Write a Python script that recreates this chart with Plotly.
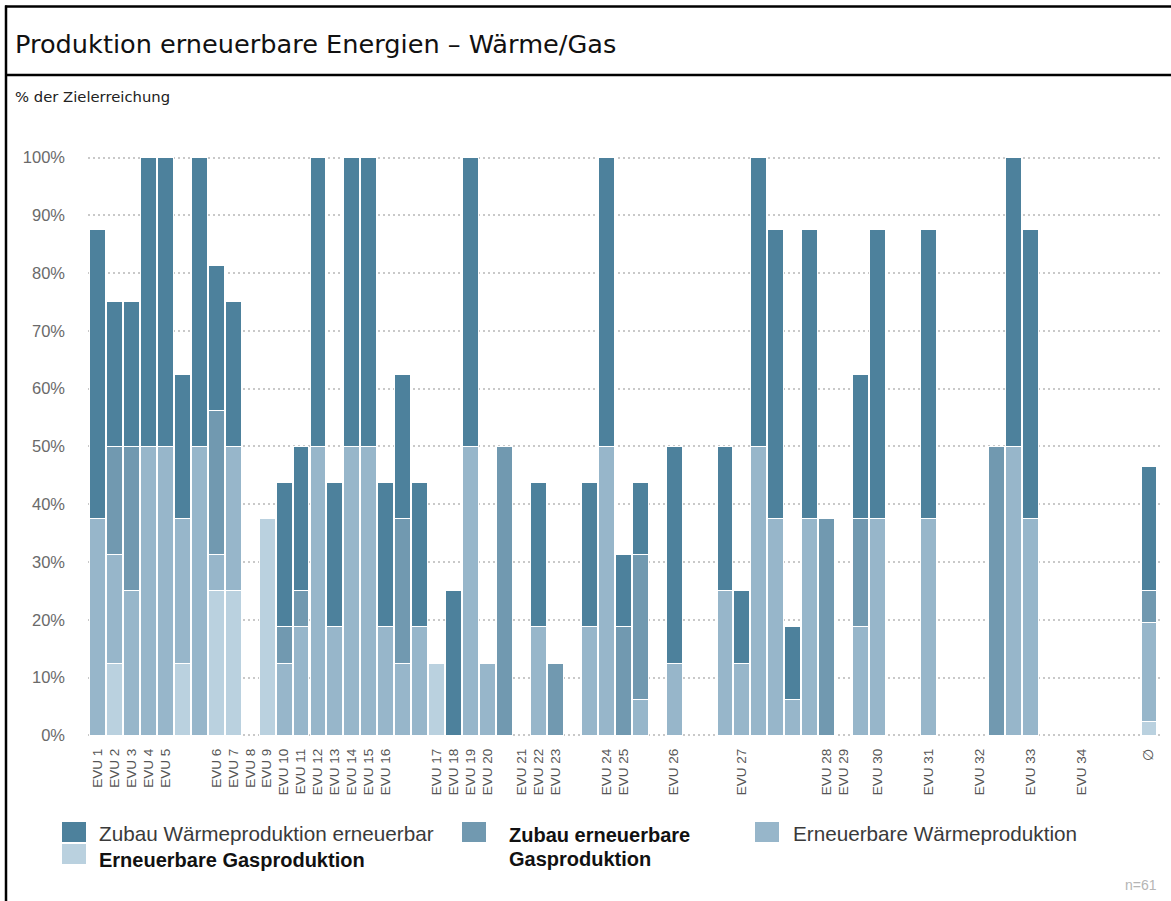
import plotly.graph_objects as go

# Slot labels along the x axis (empty strings are unlabeled suppliers)
labels = [
    "EVU 1", "EVU 2", "EVU 3", "EVU 4", "EVU 5", "", "", "EVU 6", "EVU 7", "EVU 8",
    "EVU 9", "EVU 10", "EVU 11", "EVU 12", "EVU 13", "EVU 14", "EVU 15", "EVU 16", "", "",
    "EVU 17", "EVU 18", "EVU 19", "EVU 20", "", "EVU 21", "EVU 22", "EVU 23", "", "",
    "EVU 24", "EVU 25", "", "", "EVU 26", "", "", "", "EVU 27", "",
    "", "", "", "EVU 28", "EVU 29", "", "EVU 30", "", "", "EVU 31",
    "", "", "EVU 32", "", "", "EVU 33", "", "", "EVU 34", "",
    "", "", "\u2205",
]

# Segment values in % of target (stacked bottom to top: gas, heat, new gas, new heat)
gas_prod = [
    0, 12.5, 0, 0, 0, 12.5, 0, 25, 25, 0,
    37.5, 0, 0, 0, 0, 0, 0, 0, 0, 0,
    12.5, 0, 0, 0, 0, 0, 0, 0, 0, 0,
    0, 0, 0, 0, 0, 0, 0, 0, 0, 0,
    0, 0, 0, 0, 0, 0, 0, 0, 0, 0,
    0, 0, 0, 0, 0, 0, 0, 0, 0, 0,
    0, 0, 2.3,
]
heat_prod = [
    37.5, 18.75, 25, 50, 50, 25, 50, 6.25, 25, 0,
    0, 12.5, 18.75, 50, 18.75, 50, 50, 18.75, 12.5, 18.75,
    0, 0, 50, 12.5, 0, 0, 18.75, 0, 0, 18.75,
    50, 0, 6.25, 0, 12.5, 0, 0, 25, 12.5, 50,
    37.5, 6.25, 37.5, 0, 0, 18.75, 37.5, 0, 0, 37.5,
    0, 0, 0, 0, 50, 37.5, 0, 0, 0, 0,
    0, 0, 17.2,
]
new_gas = [
    0, 18.75, 25, 0, 0, 0, 0, 25, 0, 0,
    0, 6.25, 6.25, 0, 0, 0, 0, 0, 25, 0,
    0, 0, 0, 0, 50, 0, 0, 12.5, 0, 0,
    0, 18.75, 25, 0, 0, 0, 0, 0, 0, 0,
    0, 0, 0, 37.5, 0, 18.75, 0, 0, 0, 0,
    0, 0, 0, 50, 0, 0, 0, 0, 0, 0,
    0, 0, 5.5,
]
new_heat = [
    50, 25, 25, 50, 50, 25, 50, 25, 25, 0,
    0, 25, 25, 50, 25, 50, 50, 25, 25, 25,
    0, 25, 50, 0, 0, 0, 25, 0, 0, 25,
    50, 12.5, 12.5, 0, 37.5, 0, 0, 25, 12.5, 50,
    50, 12.5, 50, 0, 0, 25, 50, 0, 0, 50,
    0, 0, 0, 0, 50, 50, 0, 0, 0, 0,
    0, 0, 21.5,
]

series = [
    ("Erneuerbare Gasproduktion", gas_prod, "#bad1df"),
    ("Erneuerbare Wärmeproduktion", heat_prod, "#97b6ca"),
    ("Zubau erneuerbare Gasproduktion", new_gas, "#7199b0"),
    ("Zubau Wärmeproduktion erneuerbar", new_heat, "#4d819c"),
]

W_FIG, H_FIG = 1171, 901
M_L, M_R, M_T, M_B = 88, 11, 146, 164
PW = W_FIG - M_L - M_R
PH = H_FIG - M_T - M_B


def xp(px):
    return (px - M_L) / PW


def yp(py):
    return (H_FIG - M_B - py) / PH


x = list(range(len(labels)))
fig = go.Figure()
for name, vals, color in series:
    fig.add_trace(go.Bar(
        x=x,
        y=[v if v else None for v in vals],
        name=name,
        marker=dict(color=color, line=dict(color="#ffffff", width=1)),
        width=0.94,
        showlegend=False,
        hovertemplate="%{y}%<extra>" + name + "</extra>",
    ))

fig.update_layout(
    width=W_FIG,
    height=H_FIG,
    barmode="stack",
    plot_bgcolor="white",
    paper_bgcolor="white",
    margin=dict(l=M_L, r=M_R, t=M_T, b=M_B, autoexpand=False),
    font=dict(family="Liberation Sans, Arial, sans-serif", color="#555555"),
    xaxis=dict(
        range=[-0.56, 62.65],
        tickmode="array",
        tickvals=x,
        ticktext=labels,
        tickangle=-90,
        ticks="",
        showgrid=False,
        zeroline=False,
        showline=False,
        tickfont=dict(size=13.5, color="#555555"),
        ticklabelstandoff=8,
    ),
    yaxis=dict(
        range=[-0.3, 102],
        tickmode="array",
        tickvals=list(range(0, 101, 10)),
        ticktext=[f"{v}%" for v in range(0, 101, 10)],
        showgrid=True,
        gridcolor="#c9c9c9",
        gridwidth=1.5,
        griddash="2px,3px",
        zeroline=False,
        showline=False,
        ticks="",
        tickfont=dict(size=16.5, color="#6a6a6a"),
        ticklabelstandoff=22,
    ),
)

shapes = []
ann = []

# Frame: top border, left border, rule under the heading
line_black = dict(color="#000000", width=2.5)
shapes.append(dict(type="line", xref="paper", yref="paper",
                   x0=xp(5), x1=xp(W_FIG + 2), y0=yp(6.5), y1=yp(6.5), line=line_black))
shapes.append(dict(type="line", xref="paper", yref="paper",
                   x0=xp(6), x1=xp(6), y0=yp(5.5), y1=yp(H_FIG + 2), line=line_black))
shapes.append(dict(type="line", xref="paper", yref="paper",
                   x0=xp(5), x1=xp(W_FIG + 2), y0=yp(75), y1=yp(75), line=line_black))

ann.append(dict(text="Produktion erneuerbare Energien \u2013 Wärme/Gas",
                xref="paper", yref="paper", x=xp(13), y=yp(44),
                xanchor="left", yanchor="middle", showarrow=False,
                font=dict(family="DejaVu Sans, sans-serif", size=25.6, color="#111111")))
ann.append(dict(text="% der Zielerreichung",
                xref="paper", yref="paper", x=xp(13), y=yp(96),
                xanchor="left", yanchor="middle", showarrow=False,
                font=dict(family="DejaVu Sans, sans-serif", size=14.8, color="#222222")))

# Legend: swatches and captions
legend_items = [
    (series[3], 62, 822, 97, [(833, "Zubau Wärmeproduktion erneuerbar")], False),
    (series[2], 462, 822, 507, [(835, "Zubau erneuerbare"), (859, "Gasproduktion")], True),
    (series[1], 755, 822, 791, [(833, "Erneuerbare Wärmeproduktion")], False),
    (series[0], 62, 844, 97, [(860, "Erneuerbare Gasproduktion")], True),
]
for (name, _vals, color), sx, sy, tx, lines, bold in legend_items:
    shapes.append(dict(type="rect", xref="paper", yref="paper",
                       x0=xp(sx), x1=xp(sx + 24), y0=yp(sy), y1=yp(sy + 20),
                       fillcolor=color, line=dict(width=0)))
    for ty, txt in lines:
        ann.append(dict(text=f"<b>{txt}</b>" if bold else txt,
                        xref="paper", yref="paper", x=xp(tx), y=yp(ty),
                        xanchor="left", yanchor="middle", showarrow=False,
                        font=dict(family="Liberation Sans, Arial, sans-serif",
                                  size=20 if bold else 20.7,
                                  color="#111111" if bold else "#3a3a3a")))

ann.append(dict(text="n=61", xref="paper", yref="paper", x=xp(1159), y=yp(885),
                xanchor="right", yanchor="middle", showarrow=False,
                font=dict(family="Liberation Sans, Arial, sans-serif", size=14, color="#b5b5b5")))

fig.update_layout(shapes=shapes, annotations=ann)
fig.write_html("out.html")
